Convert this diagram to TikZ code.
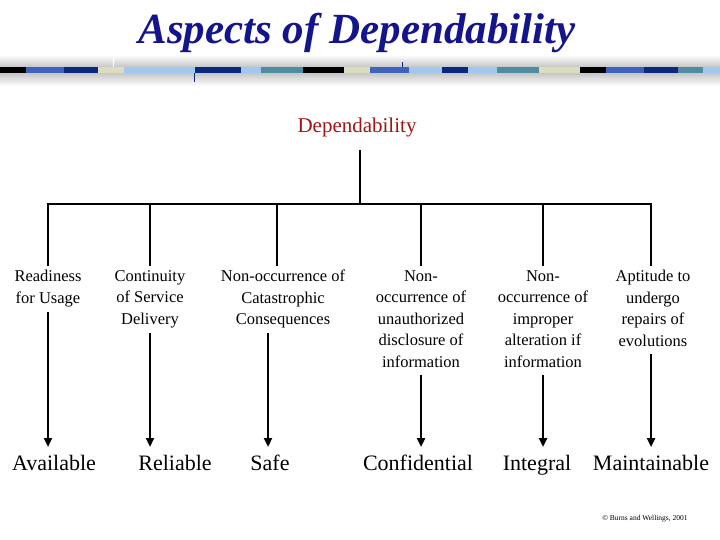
\documentclass[tikz,border=0pt]{standalone}
\usepackage{fontspec}
\setmainfont{Liberation Serif}
\usetikzlibrary{arrows.meta}
\definecolor{ttl}{RGB}{20,20,140}
\definecolor{dep}{RGB}{160,20,20}
\definecolor{sblue}{RGB}{60,100,190}
\definecolor{snavy}{RGB}{10,40,130}
\definecolor{sbeige}{RGB}{220,220,190}
\definecolor{slight}{RGB}{160,200,240}
\definecolor{steal}{RGB}{80,140,160}
\begin{document}
\begin{tikzpicture}[x=1pt,y=-1pt,
  lab/.style={font=\fontsize{16.5}{21.5}\selectfont, align=center, anchor=north, inner sep=0pt},
  res/.style={font=\fontsize{22}{24}\selectfont, anchor=base},
  tree/.style={line width=2.8pt},
  arr/.style={line width=2.8pt,-{Triangle[length=9pt,width=8pt]}}]
\useasboundingbox (0,0) rectangle (720,540);
\fill[white] (0,0) rectangle (720,540);
% banner
\shade[top color=white,bottom color=gray!45] (0,55) rectangle (720,67);
\shade[top color=gray!45,bottom color=white] (0,73) rectangle (720,86);
\foreach \a/\b/\c in {0/26/black,26/64/sblue,64/98/snavy,98/124/sbeige,124/195/slight,195/241/snavy,241/261/slight,261/303/steal,303/344/black,344/370/sbeige,370/409/sblue,409/442/slight,442/468/snavy,468/497/slight,497/539/steal,539/580/sbeige,580/606/black,606/644/sblue,644/678/snavy,678/703/steal,703/720/slight}
  \fill[\c] (\a,67) rectangle (\b,73);
\draw[snavy,line width=0.8pt] (194,73) -- (194,82);
\draw[white,line width=0.6pt] (113,55) -- (113,67);
\draw[snavy,line width=0.6pt] (402,62) -- (402,67);
\node[font=\fontsize{43}{45}\selectfont\bfseries\itshape, text=ttl] (title) at (357,33) {Aspects of Dependability};
% tree
\node[font=\fontsize{21}{24}\selectfont, text=dep] (root) at (357,127) {Dependability};
\coordinate (top) at (360,150);
\coordinate (mid) at (360,204);
\draw[tree] (top) -- (mid);
\coordinate (hl) at (48,204);
\coordinate (hr) at (651,204);
\draw[tree] ([xshift=-1.4pt]hl) -- ([xshift=1.4pt]hr);
\foreach \n/\x in {a/48,b/150,c/277,d/421,e/543,f/651}{
  \coordinate (t\n) at (\x,204);
  \coordinate (b\n) at (\x,266);
  \draw[tree] (t\n) -- (b\n);
}
\node[lab] (la) at (48,270) {Readiness\\for Usage};
\node[lab] (lb) at (150,270) {Continuity\\of Service\\Delivery};
\node[lab] (lc) at (283,270) {Non-occurrence of\\Catastrophic\\Consequences};
\node[lab] (ld) at (421,270) {Non-\\occurrence of\\unauthorized\\disclosure of\\information};
\node[lab] (le) at (543,270) {Non-\\occurrence of\\improper\\alteration if\\information};
\node[lab] (lf) at (653,270) {Aptitude to\\undergo\\repairs of\\evolutions};
\node[res] (ra) at (54,470) {Available};
\node[res] (rb) at (175,470) {Reliable};
\node[res] (rc) at (270,470) {Safe};
\node[res] (rd) at (418,470) {Confidential};
\node[res] (re) at (537,470) {Integral};
\node[res] (rf) at (651,470) {Maintainable};
\draw[arr] (48,312) -- (48,447);
\draw[arr] (150,333) -- (150,447);
\draw[arr] (268,333) -- (268,447);
\draw[arr] (421,375) -- (421,447);
\draw[arr] (543,375) -- (543,447);
\draw[arr] (651,354) -- (651,447);
\node[font=\fontsize{7.5}{9}\selectfont] (foot) at (645,519) {© Burns and Wellings, 2001};
\end{tikzpicture}
\end{document}
